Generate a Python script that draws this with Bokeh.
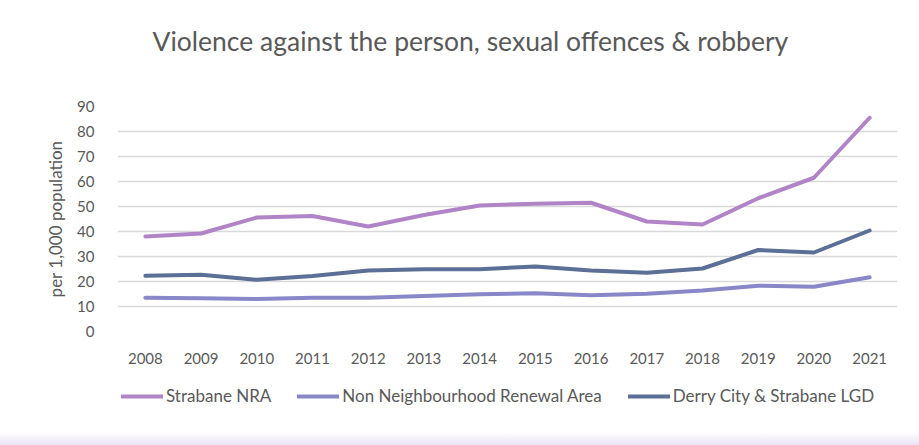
from bokeh.plotting import figure
from bokeh.models import ColumnDataSource, Legend, LegendItem, Title, SingleIntervalTicker
from bokeh.layouts import column
from bokeh.embed import file_html
from bokeh.resources import INLINE

years = ["2008", "2009", "2010", "2011", "2012", "2013", "2014",
         "2015", "2016", "2017", "2018", "2019", "2020", "2021"]
strabane_nra = [38.0, 39.2, 45.6, 46.2, 42.0, 46.6, 50.4, 51.1, 51.5, 44.0, 42.8, 53.3, 61.5, 85.5]
non_nra = [13.5, 13.3, 13.0, 13.5, 13.5, 14.2, 14.9, 15.3, 14.5, 15.1, 16.4, 18.3, 17.9, 21.7]
derry_lgd = [22.3, 22.7, 20.7, 22.2, 24.4, 24.9, 24.9, 26.0, 24.4, 23.5, 25.2, 32.6, 31.6, 40.4]

series_names = ["Strabane NRA", "Non Neighbourhood Renewal Area", "Derry City & Strabane LGD"]
colors = ["#b084c6", "#8a87c8", "#5b6f97"]
title_text = "Violence against the person, sexual offences & robbery"
y_label = "per 1,000 population"

FONT = "Lato"
GREY = "#595959"

src = ColumnDataSource(dict(x=years, a=strabane_nra, b=non_nra, c=derry_lgd))

# ---------------- main chart ----------------
p = figure(x_range=years, y_range=(0, 90), frame_width=780, frame_height=225,
           output_backend="svg", toolbar_location=None,
           min_border_left=117, min_border_right=22, min_border_top=106, min_border_bottom=39)
p.outline_line_color = None
p.background_fill_color = "white"
p.border_fill_color = "white"

p.title.text = title_text
p.title.text_font = FONT
p.title.text_font_size = "26.5px"
p.title.text_font_style = "normal"
p.title.text_color = GREY
p.title.align = "left"
p.title.offset = 35
# spacer between the title and the frame
p.add_layout(Title(text=" ", text_font_size="30px"), "above")

for key, col in zip(["a", "b", "c"], colors):
    p.line("x", key, source=src, line_color=col, line_width=4, line_join="round", line_cap="round")

p.xgrid.grid_line_color = None
p.ygrid.grid_line_color = "#d9d9d9"
p.ygrid.grid_line_width = 1.5
p.yaxis.ticker = SingleIntervalTicker(interval=10)

for ax in (p.xaxis, p.yaxis):
    ax.axis_line_color = None
    ax.major_tick_line_color = None
    ax.minor_tick_line_color = None
    ax.major_label_text_font = FONT
    ax.major_label_text_font_size = "15px"
    ax.major_label_text_color = GREY
p.xaxis.major_label_standoff = 15
p.yaxis.major_label_standoff = 17
p.yaxis.axis_label = y_label
p.yaxis.axis_label_text_font = FONT
p.yaxis.axis_label_text_font_size = "17px"
p.yaxis.axis_label_text_font_style = "normal"
p.yaxis.axis_label_text_color = GREY
p.yaxis.axis_label_standoff = 8

# ---------------- legend strip (series drawn off-range, only legend visible) ----------------
lg = figure(width=919, height=75, output_backend="svg", toolbar_location=None,
            min_border_left=117, min_border_right=22, min_border_top=0, min_border_bottom=0,
            x_range=years, y_range=(-2, -1))
lg.outline_line_color = None
lg.axis.visible = False
lg.grid.visible = False
lg.border_fill_alpha = 0
lg.background_fill_alpha = 0
lg.styles = {"background": "linear-gradient(to bottom, #ffffff 0px, #ffffff 62px, #ebe3f5 75px)"}

items = []
for name, key, col in zip(series_names, ["a", "b", "c"], colors):
    r = lg.line("x", key, source=src, line_color=col, line_width=4, line_cap="round")
    items.append(LegendItem(label=name, renderers=[r]))

legend = Legend(items=items, orientation="horizontal", location=(4, 39), nrows=1,
                label_text_font=FONT, label_text_font_size="17px", label_text_color=GREY,
                glyph_width=42, glyph_height=16, label_standoff=3, spacing=26,
                border_line_color=None, background_fill_alpha=0, margin=0, padding=4)
lg.add_layout(legend)

layout = column(p, lg, spacing=0)
open("out.html", "w").write(file_html(layout, INLINE))
